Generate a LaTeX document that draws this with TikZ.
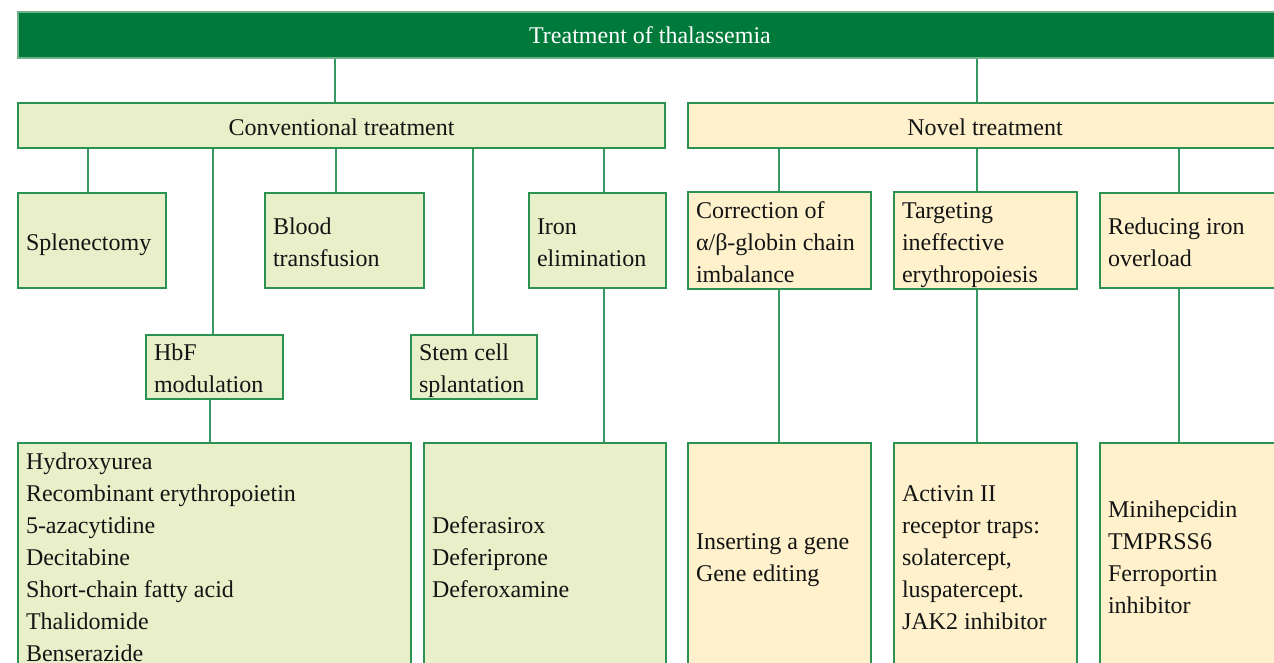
\documentclass[tikz,border=0pt]{standalone}
\usepackage{fontspec}
\setmainfont{Liberation Serif}
\usepackage{xcolor}
\definecolor{barfill}{RGB}{0,122,58}
\definecolor{barline}{RGB}{110,178,140}
\definecolor{boxline}{RGB}{44,146,82}
\definecolor{linkline}{RGB}{56,152,100}
\definecolor{convfill}{RGB}{233,240,201}
\definecolor{novfill}{RGB}{254,241,204}
\definecolor{ink}{RGB}{20,20,20}
\hyphenpenalty=10000
\exhyphenpenalty=10000
\newcommand{\linestrut}{\rule[-6pt]{0pt}{32pt}}
\begin{document}
\begin{tikzpicture}[
  x=1pt, y=-1pt,
  conv/.style={draw=boxline,fill=convfill,line width=2pt,text=ink,inner xsep=8pt,inner ysep=0pt,align=flush left,
    font=\fontsize{24}{32}\selectfont,execute at begin node=\linestrut,execute at end node=\linestrut},
  novel/.style={conv,fill=novfill},
  head/.style={align=center,inner xsep=0pt},
  topbar/.style={draw=barline,fill=barfill,line width=1.2pt,text=white,inner sep=0pt,font=\fontsize{24}{32}\selectfont},
  link/.style={draw=linkline,line width=1.6pt}
]
  \useasboundingbox (0,0) rectangle (1274,663);
  \clip (0,0) rectangle (1274,663);
  % top level
  \node[topbar,minimum width=1264pt,minimum height=46pt] (top) at (650,35) {Treatment of thalassemia};
  \node[conv,head,minimum width=647pt,minimum height=45pt] (conv) at (341.5,125.5) {Conventional treatment};
  \node[novel,head,minimum width=594pt,minimum height=45pt] (novel) at (985,125.5) {Novel treatment};
  % conventional branch
  \node[conv,minimum width=148pt,minimum height=95pt,text width=132pt] (splen) at (92,240.5) {Splenectomy};
  \node[conv,minimum width=159pt,minimum height=95pt,text width=143pt] (blood) at (344.5,240.5) {Blood\\transfusion};
  \node[conv,minimum width=137pt,minimum height=95pt,text width=121pt] (iron) at (597.5,240.5) {Iron\\elimination};
  \node[conv,minimum width=137pt,minimum height=64pt,text width=121pt] (hbf) at (214.5,366.5) {HbF\\modulation};
  \node[conv,minimum width=126pt,minimum height=64pt,text width=110pt] (stem) at (474,366.5) {Stem cell\\splantation};
  \node[conv,minimum width=393pt,minimum height=224pt,text width=377pt] (hydro) at (214.5,555) {Hydroxyurea\\Recombinant erythropoietin\\5-azacytidine\\Decitabine\\Short-chain fatty acid\\Thalidomide\\Benserazide};
  \node[conv,minimum width=242pt,minimum height=224pt,text width=226pt] (defer) at (545,555) {Deferasirox\\Deferiprone\\Deferoxamine};
  % novel branch
  \node[novel,minimum width=183pt,minimum height=95pt,text width=167pt] (corr) at (779.5,240.5) {Correction of\\\mbox{α/β-globin chain}\\imbalance};
  \node[novel,minimum width=183pt,minimum height=95pt,text width=167pt] (targ) at (985.5,240.5) {Targeting\\ineffective\\erythropoiesis};
  \node[novel,minimum width=183pt,minimum height=95pt,text width=167pt] (reduc) at (1191.5,240.5) {Reducing iron\\overload};
  \node[novel,minimum width=183pt,minimum height=224pt,text width=167pt] (insert) at (779.5,555) {Inserting a gene\\Gene editing};
  \node[novel,minimum width=183pt,minimum height=224pt,text width=167pt] (activ) at (985.5,555) {Activin II\\receptor traps:\\solatercept,\\luspatercept.\\JAK2 inhibitor};
  \node[novel,minimum width=183pt,minimum height=224pt,text width=167pt] (mini) at (1191.5,555) {Minihepcidin\\TMPRSS6\\Ferroportin\\inhibitor};
  % connectors
  \draw[link] (top.south -| 335,0) -- (conv.north -| 335,0);
  \draw[link] (top.south -| 977,0) -- (novel.north -| 977,0);
  \draw[link] (conv.south -| 88,0) -- (splen.north -| 88,0);
  \draw[link] (conv.south -| 213,0) -- (hbf.north -| 213,0);
  \draw[link] (conv.south -| 336,0) -- (blood.north -| 336,0);
  \draw[link] (conv.south -| 473,0) -- (stem.north -| 473,0);
  \draw[link] (conv.south -| 604,0) -- (iron.north -| 604,0);
  \draw[link] (iron.south -| 604,0) -- (defer.north -| 604,0);
  \draw[link] (hbf.south -| 210,0) -- (hydro.north -| 210,0);
  \draw[link] (novel.south -| 779,0) -- (corr.north -| 779,0);
  \draw[link] (novel.south -| 977,0) -- (targ.north -| 977,0);
  \draw[link] (novel.south -| 1179,0) -- (reduc.north -| 1179,0);
  \draw[link] (corr.south -| 779,0) -- (insert.north -| 779,0);
  \draw[link] (targ.south -| 977,0) -- (activ.north -| 977,0);
  \draw[link] (reduc.south -| 1179,0) -- (mini.north -| 1179,0);
\end{tikzpicture}
\end{document}
